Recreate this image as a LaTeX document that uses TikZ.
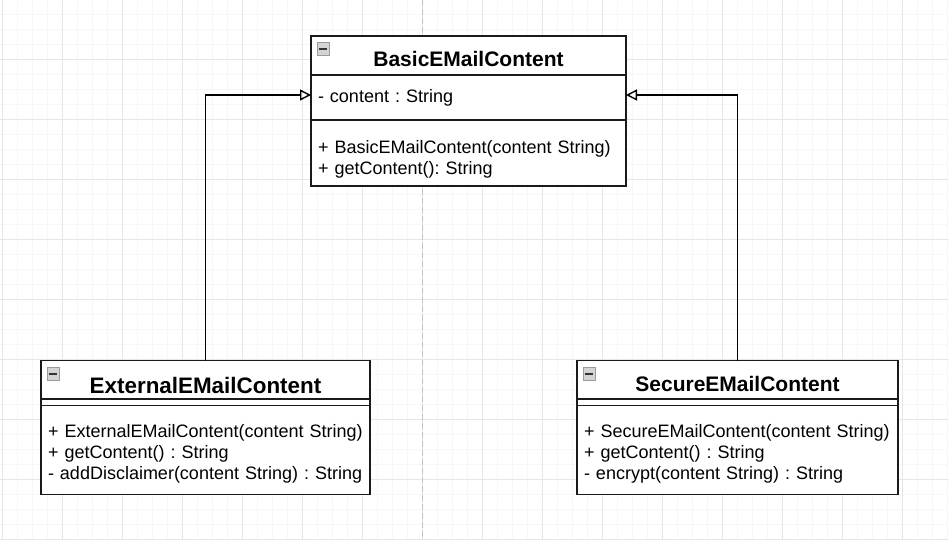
\documentclass[tikz,border=0pt]{standalone}
\usepackage{fontspec}
\setmainfont{Liberation Sans}
\usepackage{xcolor}
\definecolor{umlline}{HTML}{1A1A1A}
\definecolor{gridminor}{HTML}{F7F7F7}
\definecolor{gridmajor}{HTML}{E6E6E6}
\definecolor{sepline}{HTML}{C2C2C2}
\definecolor{icnfill}{HTML}{D4D4D4}
\definecolor{icnedge}{HTML}{9A9A9A}
\usetikzlibrary{arrows.meta,positioning}
\tikzset{
  >={Triangle[open,length=11pt,width=11pt]},
  part/.style={draw=umlline,line width=1.8pt,fill=white,inner xsep=7pt,inner ysep=0pt,outer sep=0pt,align=left,font=\fontsize{18}{21}\selectfont\frenchspacing},
  head/.style={part,align=center,font=\fontsize{21}{25}\selectfont\bfseries},
  icn/.style={draw=icnedge,fill=icnfill,line width=0.8pt,minimum size=12.5pt,inner sep=0pt},
  icnbar/.style={draw=black!80,line width=2pt},
  arr/.style={->,draw=black,line width=1.4pt},
  minor/.style={draw=gridminor,line width=1pt},
  major/.style={draw=gridmajor,line width=1pt},
  sep/.style={draw=sepline,line width=1.2pt,dash pattern=on 6pt off 3pt},
}

\begin{document}
\begin{tikzpicture}[x=1pt,y=1pt]
\useasboundingbox (0,0) rectangle (948,-540);
% background grid
\fill[white] (0,0) rectangle (948,-540);
\foreach \gx in {2.7,17.7,...,947.7} \draw[minor] (\gx,0) -- (\gx,-540);
\foreach \gy in {14.3,29.3,...,539.3} \draw[minor] (0,-\gy) -- (948,-\gy);
\foreach \gx in {2.7,62.7,...,902.7} \draw[major] (\gx,0) -- (\gx,-540);
\foreach \gy in {59.3,119.3,...,539.3} \draw[major] (0,-\gy) -- (948,-\gy);
\draw[sep] (422.7,0) -- (422.7,-540);

% base class
\node[head,minimum width=315pt,text height=31pt,text depth=8pt,anchor=north west] (basichead) at (311,-36) {BasicEMailContent};
\node[part,text width=301pt,text height=27.3pt,text depth=17.7pt,below=0pt of basichead] (basicattr) {- content : String};
\node[part,text width=301pt,text height=33.3pt,text depth=32.7pt,below=0pt of basicattr] (basicops) {+ BasicEMailContent(content String)\\+ getContent(): String};

% subclasses
\node[head,font=\fontsize{22.4}{26}\selectfont\bfseries,minimum width=329pt,text height=32.5pt,text depth=6pt,anchor=north west] (exthead) at (41,-360.5) {ExternalEMailContent};
\node[part,text width=315pt,text height=6.5pt,text depth=0pt,below=0pt of exthead] (extattr) {};
\node[part,text width=315pt,text height=32.3pt,text depth=56.7pt,below=0pt of extattr] (extops) {+ ExternalEMailContent(content String)\\+ getContent() : String\\- addDisclaimer(content String) : String};

\node[head,minimum width=321pt,text height=31pt,text depth=7.5pt,anchor=north west] (sechead) at (577,-360.5) {SecureEMailContent};
\node[part,text width=307pt,text height=6.5pt,text depth=0pt,below=0pt of sechead] (secattr) {};
\node[part,text width=307pt,text height=32.3pt,text depth=56.7pt,below=0pt of secattr] (secops) {+ SecureEMailContent(content String)\\+ getContent() : String\\- encrypt(content String) : String};

% collapse icons
\foreach \cls in {basic,ext,sec}{
  \node[icn,anchor=north west] (\cls icon) at ([shift={(5.5pt,-6.5pt)}]\cls head.north west) {};
  \draw[icnbar] ([xshift=-4pt]\cls icon.center) -- ([xshift=4pt]\cls icon.center);
}

\draw[arr] (exthead.north) |- ([yshift=2.5pt]basicattr.west);
\draw[arr] (sechead.north) |- ([yshift=2.5pt]basicattr.east);
\end{tikzpicture}
\end{document}
